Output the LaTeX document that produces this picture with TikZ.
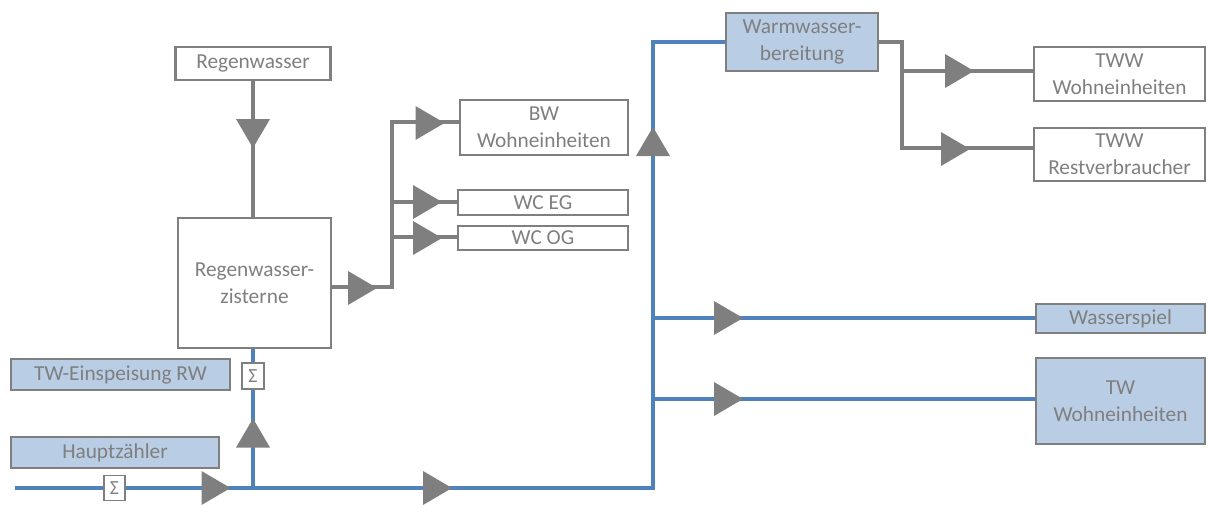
\documentclass[tikz,border=0pt]{standalone}
\usepackage{fontspec}
\setmainfont{Carlito}
\definecolor{lg}{HTML}{7F7F7F}
\definecolor{bl}{HTML}{4F81BD}
\definecolor{fb}{HTML}{B9CDE5}
\begin{document}
\begin{tikzpicture}[x=0.75pt,y=-0.75pt,
  box/.style 2 args={draw=lg, line width=1.9pt, text=lg, align=center, inner sep=0pt,
     font=\fontsize{16}{20}\selectfont, minimum width=#1*0.75pt, minimum height=#2*0.75pt},
  bbox/.style 2 args={box={#1}{#2}, fill=fb},
  sig/.style 2 args={draw=lg, line width=1.2pt, fill=white, text=lg, inner sep=0pt,
     font=\fontsize{15}{15}\selectfont, minimum width=#1*0.75pt, minimum height=#2*0.75pt},
  gline/.style={draw=lg, line width=2.3pt},
  bline/.style={draw=bl, line width=2.3pt},
  tri/.pic={\fill[lg] (-14.5,-17) -- (14.5,0) -- (-14.5,17) -- cycle;}
]
\useasboundingbox (0,0) rectangle (1208,504);

% boxes
\node[box={155}{33}] (rw) at (253,63.5) {Regenwasser};
\node[box={153}{130}] (zis) at (254.5,283) {Regenwasser-\\zisterne};
\node[box={168}{55}] (bw) at (544,127.5) {BW\\Wohneinheiten};
\node[box={170}{25}] (wceg) at (543,202.5) {WC EG};
\node[box={170}{24}] (wcog) at (543,238) {WC OG};
\node[bbox={219}{31}] (tweins) at (120.5,374.5) {TW-Einspeisung RW};
\node[bbox={208}{31}] (haupt) at (115,452.5) {Hauptzähler};
\node[sig={21}{25}] (sig1) at (114.5,488) {Σ};
\node[sig={22}{26}] (sig2) at (253,376) {Σ};
\node[bbox={152}{58}] (ww) at (802,42) {Warmwasser-\\bereitung};
\node[box={171}{54}] (twwwe) at (1119.5,74) {TWW\\Wohneinheiten};
\node[box={171}{53}] (twwrv) at (1119.5,154.5) {TWW\\Restverbraucher};
\node[bbox={169}{29}] (wsp) at (1120.5,318.5) {Wasserspiel};
\node[bbox={169}{86}] (twwe) at (1120.5,401) {TW\\Wohneinheiten};

% coordinates
\coordinate (in) at (15,488);
\coordinate (j0) at (253,488);
\coordinate (j2) at (653,488);
\coordinate (top) at (653,42);
\coordinate (j3) at (653,318);
\coordinate (j4) at (653,399);
\coordinate (j1) at (392,287);
\coordinate (b1) at (392,122);
\coordinate (b2) at (392,202);
\coordinate (b3) at (392,237);
\coordinate (k1) at (902,42);
\coordinate (k2) at (902,71);
\coordinate (k3) at (902,148);

% blue lines
\draw[bline] (in) -- (sig1) -- (j0) -- (j2) -- (top) -- (ww.west);
\draw[bline] (j0) -- (sig2) -- (sig2 |- zis.south);
\draw[bline] (j3) -- (j3 -| wsp.west);
\draw[bline] (j4) -- (j4 -| twwe.west);

% gray lines
\draw[gline] (rw.south) -- (rw.south |- zis.north);
\draw[gline] (zis.east |- j1) -- (j1) -- (b1) -- (b1 -| bw.west);
\draw[gline] (b2) -- (b2 -| wceg.west);
\draw[gline] (b3) -- (b3 -| wcog.west);
\draw[gline] (ww.east) -- (k1) -- (k3) -- (k3 -| twwrv.west);
\draw[gline] (k2) -- (k2 -| twwwe.west);

% arrow triangles
\pic[rotate=-90] at (253,133.5) {tri};
\pic at (362.5,288) {tri};
\pic at (430,123) {tri};
\pic at (427.5,202) {tri};
\pic at (427.5,238) {tri};
\pic at (216,488) {tri};
\pic[rotate=90] at (253,433) {tri};
\pic at (437.5,488) {tri};
\pic[rotate=90] at (653,141.5) {tri};
\pic at (959.5,71) {tri};
\pic at (955.5,149) {tri};
\pic at (728.5,318) {tri};
\pic at (728.5,399) {tri};
\end{tikzpicture}
\end{document}
